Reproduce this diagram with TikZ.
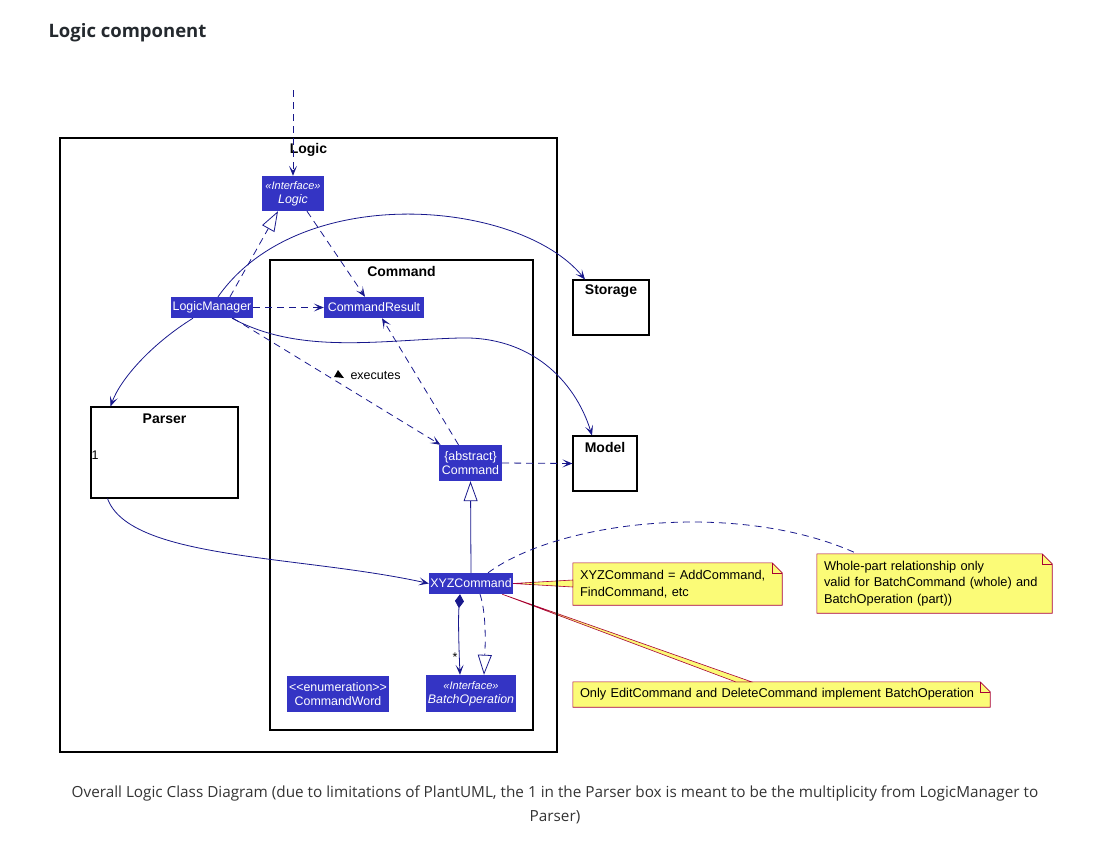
\documentclass[tikz,border=0pt]{standalone}
\usepackage{fontspec}
\setmainfont{Liberation Sans}
\newfontfamily\pagefont{Open Sans}
\usetikzlibrary{arrows.meta,backgrounds}
\definecolor{umlblue}{RGB}{52,52,196}
\definecolor{umlline}{RGB}{24,24,140}
\definecolor{notered}{RGB}{168,0,54}
\definecolor{noteyellow}{RGB}{251,251,119}
\definecolor{pagegray}{RGB}{36,41,46}
\definecolor{capgray}{RGB}{51,51,51}

\begin{document}
\begin{tikzpicture}[x=1pt,y=-1pt,
  cls/.style={fill=umlblue,text=white,inner sep=0pt,align=center,font=\fontsize{12.4}{14}\selectfont},
  box/.style={draw=black,line width=1.1pt,inner sep=0pt},
  boxname/.style={font=\fontsize{14}{16}\selectfont\bfseries},
  note/.style={inner xsep=7pt,inner ysep=0pt,align=left,font=\fontsize{12.8}{16.5}\selectfont},
  link/.style={draw=umlline,line width=0.8pt},
  dep/.style={link,dash pattern=on 7pt off 5pt},
  head/.style={-{Stealth[length=10pt,width=8pt,inset=5pt]}},
  realize/.style={-{Triangle[length=20pt,width=14pt,fill=white]}},
  notelink/.style={draw=notered,fill=noteyellow,line width=0.6pt}
]
\useasboundingbox (0,0) rectangle (1114,854);

% Title
\node[anchor=west,text=pagegray,font=\pagefont\bfseries\fontsize{18.5}{22}\selectfont] (title) at (45,33) {Logic component};

% Packages and outside components
\node[box,minimum width=497pt,minimum height=614pt] (logicpkg) at (308.5,445) {};
\node[boxname] (logicname) at ([yshift=-12pt]logicpkg.north) {Logic};
\node[box,minimum width=263pt,minimum height=470pt] (cmdpkg) at (401.5,495) {};
\node[boxname] (cmdname) at ([yshift=-12pt]cmdpkg.north) {Command};
\node[box,minimum width=76pt,minimum height=55pt] (storage) at (611,307.5) {};
\node[boxname] (storagename) at ([yshift=-12pt]storage.north) {Storage};
\node[box,minimum width=64pt,minimum height=55pt] (model) at (605,463.5) {};
\node[boxname] (modelname) at ([yshift=-12pt]model.north) {Model};
\node[box,minimum width=147pt,minimum height=91pt] (parser) at (164.5,452.5) {};
\node[boxname] (parsername) at ([yshift=-12pt]parser.north) {Parser};

% Classes
\node[cls,minimum width=62pt,minimum height=35pt] (logic) at (293,193.5) {{\fontsize{11}{14}\selectfont\itshape «Interface»}\\\textit{Logic}};
\node[cls,minimum width=82pt,minimum height=21pt] (lm) at (212,307.5) {LogicManager};
\node[cls,minimum width=100pt,minimum height=21pt] (cmdresult) at (374,307.5) {CommandResult};
\node[cls,minimum width=63pt,minimum height=36pt] (cmd) at (470.5,463) {\{abstract\}\\Command};
\node[cls,minimum width=84pt,minimum height=21pt] (xyz) at (471,583.5) {XYZCommand};
\node[cls,minimum width=90pt,minimum height=37pt] (batchop) at (471,693.5) {{\fontsize{11}{14}\selectfont\itshape «Interface»}\\\textit{BatchOperation}};
\node[cls,minimum width=102pt,minimum height=36pt] (cmdword) at (338,694) {<{}<enumeration>{}>\\CommandWord};

% Notes
\node[note,text width=195pt,minimum height=42pt] (noteA) at (677.5,584) {XYZCommand = AddCommand,\\FindCommand, etc};
\node[note,text width=221pt,minimum height=59pt] (noteB) at (934.5,583.5) {Whole-part relationship only\\valid for BatchCommand (whole) and\\BatchOperation (part))};
\node[note,text width=403pt,minimum height=25pt] (noteC) at (781.5,694.5) {Only EditCommand and DeleteCommand implement BatchOperation};

\begin{scope}[on background layer]
\foreach \n in {noteA,noteB,noteC}{
  \draw[notelink] (\n.north west) -- ([xshift=-10pt]\n.north east) -- ([yshift=-10pt]\n.north east) -- (\n.south east) -- (\n.south west) -- cycle;
  \draw[notelink,fill=none] ([xshift=-10pt]\n.north east) |- ([yshift=-10pt]\n.north east);
}
\draw[notelink] (xyz.east) -- ([yshift=4pt]noteA.west) -- ([yshift=-3pt]noteA.west) -- cycle;
\draw[notelink] ([xshift=-11pt]xyz.south east) -- ([xshift=-46pt]noteC.north) -- ([xshift=-30pt]noteC.north) -- cycle;
\end{scope}

% Connectors
\coordinate (entry) at (293,90);
\draw[dep,head] (entry) -- (logic.north);
\draw[dep,realize] ([xshift=18pt]lm.north) -- ([xshift=-15pt]logic.south);
\draw[dep,head] ([xshift=14pt]logic.south) -- ([xshift=-9pt]cmdresult.north);
\draw[dep,head] (lm.east) -- (cmdresult.west);
\draw[link,head] ([xshift=6pt]lm.north) .. controls (300,180) and (520,200) .. ([xshift=-26pt]storage.north);
\draw[link,head] ([xshift=20pt]lm.south) .. controls (300,355) and (380,340) .. (460,338) .. controls (530,336) and (575,380) .. ([xshift=-13pt]model.north);
\draw[link,head] ([xshift=-19pt]lm.south) .. controls (150,345) and (120,380) .. ([xshift=-54pt]parser.north);
\draw[dep,head] ([xshift=21pt]lm.south) -- ([xshift=-30pt]cmd.north);
\draw[dep,head] ([xshift=-12pt]cmd.north) -- ([xshift=8pt]cmdresult.south);
\draw[dep,head] (cmd.east) -- (model.west);
\draw[link,realize] (xyz.north) -- (cmd.south);
\draw[link,head] ([xshift=-57pt]parser.south) .. controls (130,560) and (300,555) .. (xyz.west);
\draw[link,{Diamond[length=14pt,width=9pt]}-{Stealth[length=10pt,width=8pt,inset=5pt]}] ([xshift=-11pt]xyz.south) .. controls (458,620) and (459,650) .. ([xshift=-11pt]batchop.north);
\draw[dep,realize] ([xshift=9pt]xyz.south) .. controls (487,615) and (485,650) .. ([xshift=13pt]batchop.north);
\draw[dep] ([xshift=17pt]xyz.north) .. controls (560,520) and (740,500) .. ([xshift=-77pt]noteB.north);

% Labels
\node[anchor=west,font=\fontsize{12.5}{14}\selectfont] (execlbl) at (347,376) {executes};
\fill ([xshift=-13pt,yshift=-1pt]execlbl.west) -- ++(10,1) -- ++(-6,-8) -- cycle;
\node[anchor=west,inner sep=1pt,font=\fontsize{12.5}{14}\selectfont] (one) at ([yshift=-3pt]parser.west) {1};
\node[font=\fontsize{12.5}{14}\selectfont] (star) at (455,657) {*};

% Caption
\node[align=center,text=capgray,font=\pagefont\fontsize{15.3}{24}\selectfont] (caption) at (555,805) {Overall Logic Class Diagram (due to limitations of PlantUML, the 1 in the Parser box is meant to be the multiplicity from LogicManager to\\Parser)};
\end{tikzpicture}
\end{document}
